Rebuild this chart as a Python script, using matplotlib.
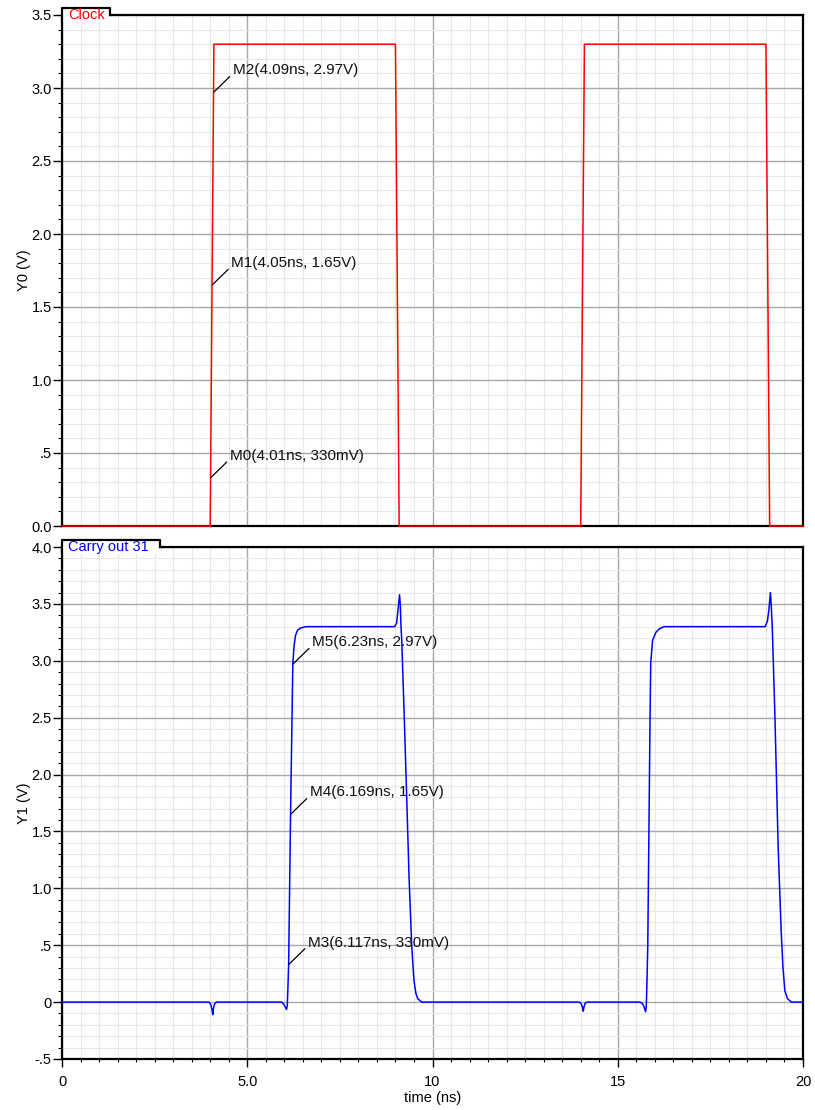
import numpy as np
import matplotlib
matplotlib.use("Agg")
import matplotlib.pyplot as plt
from matplotlib.patches import Rectangle
from matplotlib.lines import Line2D
from matplotlib.ticker import MultipleLocator

plt.rcParams['font.family'] = ['Liberation Sans', 'DejaVu Sans']

# ---- waveform data ----
clock_t = [0.0, 4.0, 4.1, 9.0, 9.1, 14.0, 14.1, 19.0, 19.1, 20.0]
clock_v = [0.0, 0.0, 3.3, 3.3, 0.0, 0.0, 3.3, 3.3, 0.0, 0.0]

carry_t = [0.0, 3.97, 4.02, 4.05, 4.07, 4.09, 4.12, 4.17,
           5.93, 5.99, 6.03, 6.06, 6.08, 6.095, 6.117, 6.169, 6.23, 6.26, 6.30, 6.36, 6.45, 6.60,
           8.98, 9.03, 9.07, 9.11, 9.13, 9.15, 9.17, 9.24, 9.30, 9.37, 9.44, 9.50, 9.55, 9.60, 9.71,
           13.97, 14.02, 14.05, 14.07, 14.09, 14.12, 14.17,
           15.60, 15.66, 15.71, 15.75, 15.77, 15.79, 15.81, 15.84, 15.87, 15.89, 15.94, 16.03, 16.12, 16.25,
           18.98, 19.04, 19.08, 19.12, 19.14, 19.17, 19.24, 19.33, 19.41, 19.46, 19.51, 19.58, 19.69, 20.0]
carry_v = [0.0, 0.0, -0.025, -0.07, -0.11, -0.05, -0.015, 0.0,
           0.0, -0.02, -0.045, -0.065, -0.03, 0.10, 0.33, 1.65, 2.97, 3.12, 3.22, 3.27, 3.29, 3.30,
           3.30, 3.33, 3.45, 3.58, 3.50, 3.30, 3.18, 2.48, 1.84, 1.07, 0.49, 0.19, 0.08, 0.03, 0.0,
           0.0, -0.02, -0.05, -0.08, -0.04, -0.01, 0.0,
           0.0, -0.01, -0.04, -0.085, -0.04, 0.20, 0.49, 1.45, 2.45, 2.98, 3.18, 3.25, 3.28, 3.30,
           3.30, 3.35, 3.45, 3.60, 3.50, 3.30, 2.54, 1.36, 0.63, 0.30, 0.10, 0.03, 0.0, 0.0]

# ---- markers ----
clock_marker_names = ["M0", "M1", "M2"]
clock_marker_t = [4.01, 4.05, 4.09]
clock_marker_v = [0.33, 1.65, 2.97]

carry_marker_names = ["M3", "M4", "M5"]
carry_marker_t = [6.117, 6.169, 6.23]
carry_marker_v = [0.33, 1.65, 2.97]

# ---- axis labels ----
top_yticks = [0.0, 0.5, 1.0, 1.5, 2.0, 2.5, 3.0, 3.5]
top_yticklabels = ["0.0", ".5", "1.0", "1.5", "2.0", "2.5", "3.0", "3.5"]
bot_yticks = [-0.5, 0.0, 0.5, 1.0, 1.5, 2.0, 2.5, 3.0, 3.5, 4.0]
bot_yticklabels = ["-.5", "0", ".5", "1.0", "1.5", "2.0", "2.5", "3.0", "3.5", "4.0"]
xticks = [0, 5, 10, 15, 20]
xticklabels = ["0", "5.0", "10", "15", "20"]

W, H = 815, 1110
fig = plt.figure(figsize=(W / 100, H / 100), dpi=100)


def fx(px):
    return px / W


def fy(py):
    return 1 - py / H


L, R = 62, 803
ax_top = fig.add_axes([fx(L), fy(526), fx(R) - fx(L), fy(15) - fy(526)])
ax_bot = fig.add_axes([fx(L), fy(1059), fx(R) - fx(L), fy(547) - fy(1059)])


def style_axes(ax, yticks, yticklabels, ylim, show_x):
    ax.set_xlim(0, 20)
    ax.set_ylim(*ylim)
    ax.set_xticks(xticks)
    ax.xaxis.set_minor_locator(MultipleLocator(0.5))
    ax.set_yticks(yticks)
    ax.set_yticklabels(yticklabels)
    ax.yaxis.set_minor_locator(MultipleLocator(0.1))
    ax.set_axisbelow(True)
    ax.grid(which='major', color='#a8a8a8', lw=1.0)
    ax.grid(which='minor', color='#e8e8e8', lw=0.8)
    for s in ax.spines.values():
        s.set_color('black')
        s.set_linewidth(1.6)
    ax.tick_params(axis='y', which='major', direction='out', length=6.5, width=1.0,
                   labelsize=10.5, colors='black', pad=0.8)
    ax.tick_params(axis='y', which='minor', direction='out', length=2.9, width=0.8)
    if show_x:
        ax.set_xticklabels(xticklabels)
        ax.tick_params(axis='x', which='major', direction='out', length=5.8, width=1.0,
                       labelsize=10.5, colors='black', pad=6)
        ax.tick_params(axis='x', which='minor', direction='out', length=2.5, width=0.8)
    else:
        ax.set_xticklabels([])
        ax.tick_params(axis='x', which='both', bottom=False, labelbottom=False)


style_axes(ax_top, top_yticks, top_yticklabels, (0, 3.5), False)
style_axes(ax_bot, bot_yticks, bot_yticklabels, (-0.5, 4.0), True)

ax_top.plot(clock_t, clock_v, color='#ff0000', lw=1.1, clip_on=False, zorder=3)
ax_bot.plot(carry_t, carry_v, color='#0000ff', lw=1.1, zorder=3)


def fmt_val(v):
    if abs(v) < 1:
        return f"{v * 1000:.0f}mV"
    return f"{v:.2f}V"


def add_markers(ax, names, ts, vs):
    for n, t, v in zip(names, ts, vs):
        ax.annotate(f"{n}({t:g}ns, {fmt_val(v)})", xy=(t, v),
                    xytext=(19, 22), textcoords='offset pixels',
                    ha='left', va='center', fontsize=11, color='#111111',
                    arrowprops=dict(arrowstyle='-', color='black', lw=0.9,
                                    shrinkA=0, shrinkB=0, relpos=(0, 0.25)),
                    zorder=5)


add_markers(ax_top, clock_marker_names, clock_marker_t, clock_marker_v)
add_markers(ax_bot, carry_marker_names, carry_marker_t, carry_marker_v)

ax_top.set_ylabel("Y0 (V)", fontsize=10.5, labelpad=0.5)
ax_bot.set_ylabel("Y1 (V)", fontsize=10.5, labelpad=0.5)
ax_bot.set_xlabel("time (ns)", fontsize=10.5, labelpad=1)


def trace_tab(x0, x1, ytop, yspine, label, color):
    # white tab with the trace name sitting on the top spine
    fig.patches.append(Rectangle((fx(x0 + 1), fy(ytop + 14)), fx(x1 - 1) - fx(x0 + 1),
                                 fy(ytop) - fy(ytop + 14), transform=fig.transFigure,
                                 facecolor='white', edgecolor='none', zorder=10))
    fig.lines.append(Line2D([fx(x0), fx(x0), fx(x1), fx(x1)],
                            [fy(ytop + 13), fy(ytop), fy(ytop), fy(yspine)],
                            transform=fig.transFigure, color='black', lw=1.6, zorder=11))
    txt = fig.text(fx(x0 + 6), fy(ytop + 6.8), label, color=color,
                   fontsize=10.5, ha='left', va='center')
    txt.set_zorder(12)


trace_tab(62, 110, 8, 15, "Clock", '#ff0000')
trace_tab(62, 160, 540, 547, "Carry out 31", '#0000ff')

fig.savefig("out.png", dpi=100)
